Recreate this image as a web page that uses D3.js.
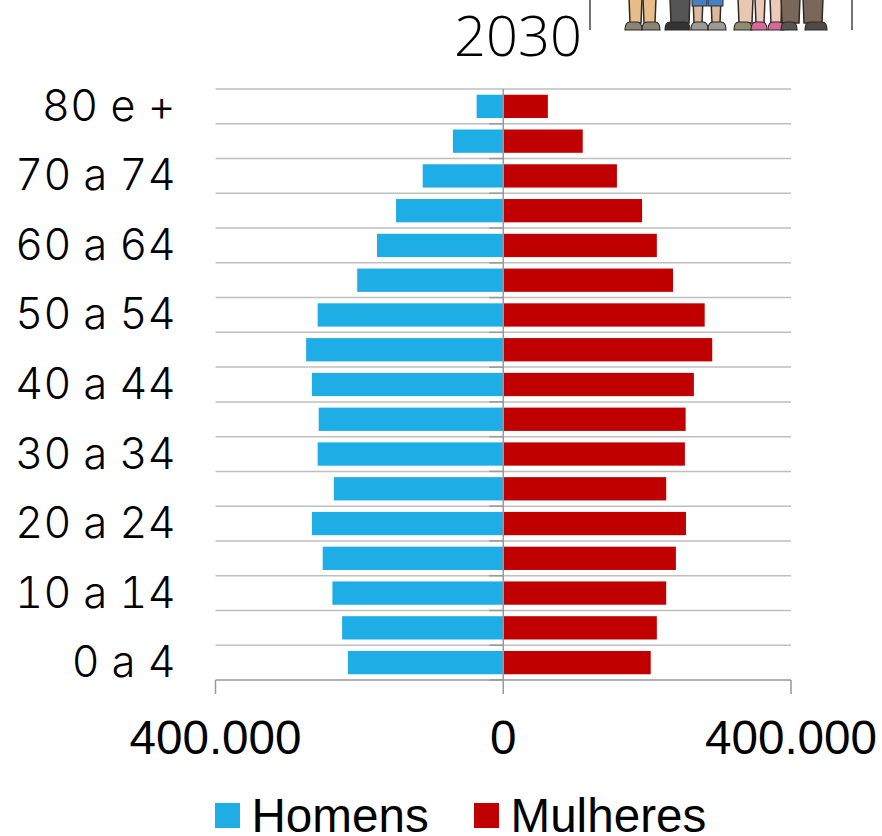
<!DOCTYPE html>
<html><head><meta charset="utf-8">
<script src="https://cdn.jsdelivr.net/npm/d3@7"></script>
<style>html,body{margin:0;padding:0;background:#fff}svg{display:block}</style></head>
<body><svg id="c" width="882" height="836"></svg>
<script>
const categories=["80 e +","75 a 79","70 a 74","65 a 69","60 a 64","55 a 59","50 a 54","45 a 49","40 a 44","35 a 39","30 a 34","25 a 29","20 a 24","15 a 19","10 a 14","5 a 9","0 a 4"];
const shownLabels=["80 e +","70 a 74","60 a 64","50 a 54","40 a 44","30 a 34","20 a 24","10 a 14","0 a 4"];
const homens=[37000,70000,112000,149000,175500,203000,258000,274000,266000,256500,258000,235500,266000,251000,237500,224000,216000];
const mulheres=[62000,110500,158000,193000,213500,236000,280000,290500,265000,253500,252500,226500,254000,240000,226500,213500,205000];
const xTicks=[-400000,0,400000];
const tickText=["400.000","0","400.000"];
const svg=d3.select("#c");
const x=d3.scaleLinear().domain([-400000,400000]).range([215.5,791]);
const y=d3.scaleBand().domain(categories).range([89,680]).paddingInner(0.33).paddingOuter(0.165);
const step=y.step();
// decorative feet cropped from the illustration above the title
const deco=svg.append("g");
[590,852].forEach(d=>deco.append("line").attr("x1",d).attr("x2",d).attr("y1",0).attr("y2",30).attr("stroke","#444").attr("stroke-width",1.5));
const legs=[[629,13,"#e8bd8a"],[643,13,"#e8bd8a"],[670,20,"#555"],[693,10,"#dcb99a"],[711,10,"#dcb99a"],[738,15,"#e6c8b4"],[755,10,"#ecc9b8"],[770,12,"#ecc9b8"],[781,19,"#7b675a"],[803,20,"#7b675a"]];
legs.forEach(d=>deco.append("path").attr("d",`M${d[0]},-2L${d[0]+d[1]},-2L${d[0]+d[1]-1},23L${d[0]+1},23Z`).attr("fill",d[2]).attr("stroke","#2f2a26").attr("stroke-width",1.5));
[[692,15],[708,15]].forEach(d=>deco.append("rect").attr("x",d[0]).attr("y",-2).attr("width",d[1]).attr("height",8).attr("fill","#4a7fbf").attr("stroke","#2f2a26"));
const shoes=[[625,17,"#8a8474"],[642,18,"#8a8474"],[665,25,"#333"],[691,17,"#9a9a96"],[708,18,"#9a9a96"],[734,18,"#8f8c74"],[751,16,"#d8689a"],[768,16,"#d8689a"],[781,16,"#555"],[805,22,"#504a46"]];
shoes.forEach(d=>deco.append("path").attr("d",`M${d[0]},30Q${d[0]},22 ${d[0]+5},22L${d[0]+d[1]-5},22Q${d[0]+d[1]},22 ${d[0]+d[1]},30Z`).attr("fill",d[2]).attr("stroke","#2f2a26").attr("stroke-width",1.2));
// gridlines
svg.append("g").selectAll("line").data(d3.range(categories.length)).join("line")
 .attr("x1",215.5).attr("x2",791).attr("y1",i=>89+i*step).attr("y2",i=>89+i*step)
 .attr("stroke","#bfbfbf").attr("stroke-width",1.5);
// bars
svg.append("g").selectAll("rect").data(homens).join("rect")
 .attr("x",d=>x(-d)).attr("width",d=>x(0)-x(-d)).attr("y",(d,i)=>y(categories[i])).attr("height",y.bandwidth()).attr("fill","#1eade5");
svg.append("g").selectAll("rect").data(mulheres).join("rect")
 .attr("x",x(0)).attr("width",d=>x(d)-x(0)).attr("y",(d,i)=>y(categories[i])).attr("height",y.bandwidth()).attr("fill","#c00000");
// axes
const ax=svg.append("g").attr("stroke","#999").attr("stroke-width",1.5).attr("fill","none");
ax.append("line").attr("x1",215.5).attr("x2",791).attr("y1",680).attr("y2",680);
xTicks.forEach(t=>ax.append("line").attr("x1",x(t)).attr("x2",x(t)).attr("y1",680).attr("y2",694));
ax.append("line").attr("x1",x(0)).attr("x2",x(0)).attr("y1",89).attr("y2",680);
d3.range(categories.length).forEach(i=>ax.append("line").attr("x1",x(0)-14).attr("x2",x(0)).attr("y1",89+(i+1)*step).attr("y2",89+(i+1)*step));
// labels
svg.append("g").selectAll("text").data(categories.filter(c=>shownLabels.includes(c))).join("text")
 .attr("x",176).attr("y",d=>y(d)+y.bandwidth()/2+14.5).attr("text-anchor","end")
 .attr("font-family","Inter, Lato, sans-serif").attr("font-weight",300).attr("font-size",43)
 .style("font-variant-numeric","tabular-nums").style("letter-spacing","0.4px").attr("fill","#000").text(d=>d);
svg.append("g").selectAll("text").data(xTicks).join("text")
 .attr("x",d=>x(d)).attr("y",754).attr("text-anchor","middle")
 .attr("font-family","'Liberation Sans', Arial, sans-serif").attr("font-size",47.6).attr("fill","#000").text((d,i)=>tickText[i]);
svg.append("text").attr("x",518).attr("y",56).attr("text-anchor","middle")
 .attr("font-family","'Open Sans', sans-serif").attr("font-weight",300).attr("font-size",56).attr("fill","#000").text("2030");
// legend
const legend=[["Homens","#1eade5",215,251.5],["Mulheres","#c00000",474,510.5]];
legend.forEach(l=>{
 svg.append("rect").attr("x",l[2]).attr("y",803).attr("width",25).attr("height",25).attr("fill",l[1]);
 svg.append("text").attr("x",l[3]).attr("y",832).attr("font-family","'Liberation Sans', Arial, sans-serif").attr("font-size",47.6).attr("fill","#000").text(l[0]);
});
</script></body></html>
